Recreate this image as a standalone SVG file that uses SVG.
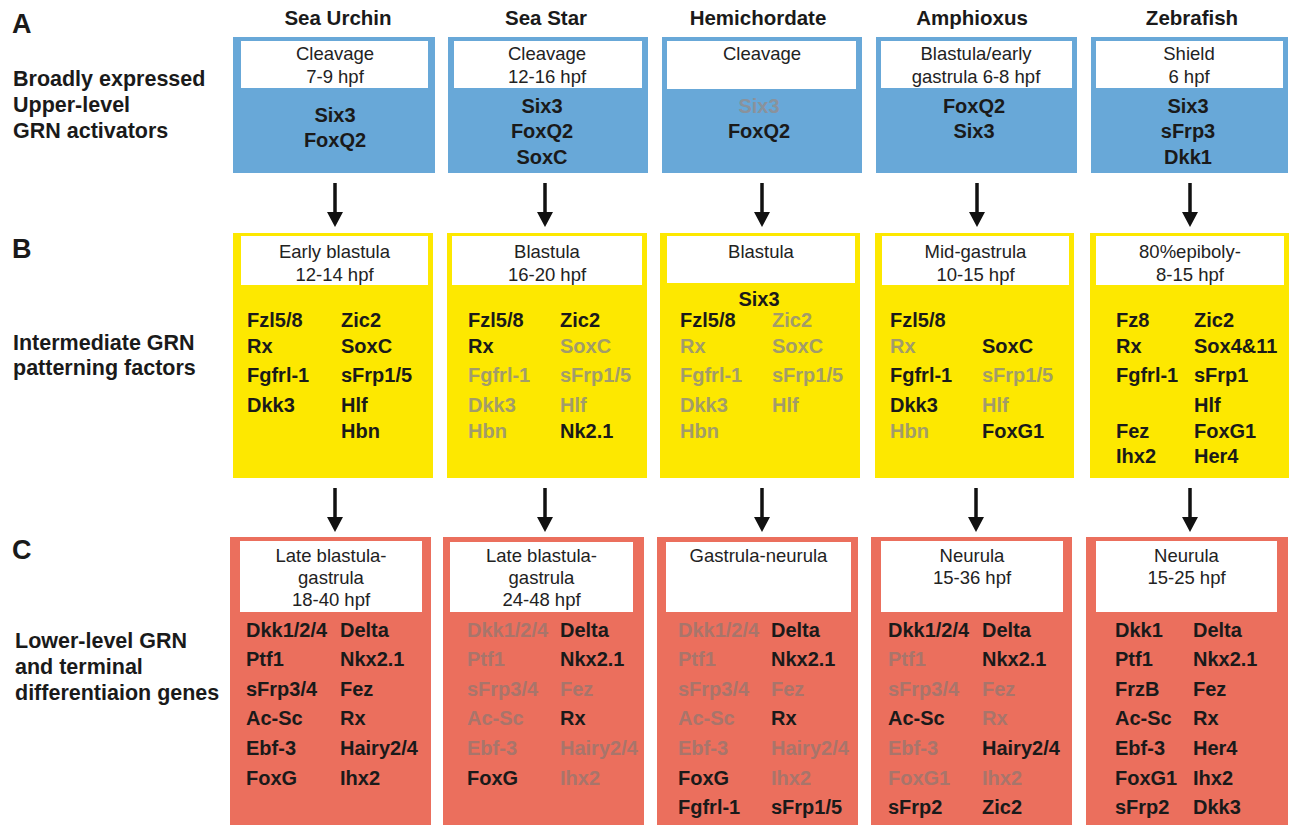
<svg xmlns="http://www.w3.org/2000/svg" width="1289" height="825" viewBox="0 0 1289 825">
<style>
text{font-family:"Liberation Sans",Arial,Helvetica,sans-serif;fill:#1a1a1a}
.hdr{font-weight:bold;font-size:20.5px;text-anchor:middle}
.lbl{font-weight:bold;font-size:21.5px}
.let{font-weight:bold;font-size:27px}
.stage{font-size:18.5px;text-anchor:middle;fill:#222}
.g{font-weight:bold;font-size:20px}
.c{text-anchor:middle}
.ga{fill:#8a929c}
.gb{fill:#a29c6a}
.gc{fill:#a8756b}
.blue{fill:#68a8d8}
.yel{fill:#fde800}
.red{fill:#eb6f5d}
.wb{fill:#ffffff}
.arr{stroke:#111;stroke-width:3.5;fill:none}
</style>
<defs>
<marker id="ah" viewBox="0 0 15 16" refX="0" refY="8" markerWidth="15" markerHeight="16" markerUnits="userSpaceOnUse" orient="auto">
<path d="M0,0 L15,8 L0,16 z" fill="#111"/>
</marker>
</defs>
<rect width="1289" height="825" fill="#ffffff"/>

<g id="labels">
<text class="let" x="12" y="33">A</text>
<text class="lbl" x="13" y="86">Broadly expressed</text>
<text class="lbl" x="13" y="112">Upper-level</text>
<text class="lbl" x="13" y="138">GRN activators</text>
<text class="let" x="12" y="258">B</text>
<text class="lbl" x="13" y="350">Intermediate GRN</text>
<text class="lbl" x="13" y="375">patterning factors</text>
<text class="let" x="12" y="559">C</text>
<text class="lbl" x="15" y="648">Lower-level GRN</text>
<text class="lbl" x="15" y="674">and terminal</text>
<text class="lbl" x="15" y="700">differentiaion genes</text>
</g>

<g id="headers">
<text class="hdr" x="338" y="25">Sea Urchin</text>
<text class="hdr" x="546" y="25">Sea Star</text>
<text class="hdr" x="758" y="25">Hemichordate</text>
<text class="hdr" x="972" y="25">Amphioxus</text>
<text class="hdr" x="1192" y="25">Zebrafish</text>
</g>

<!-- Row A -->
<g id="A1">
<rect class="blue" x="233" y="37" width="202" height="136"/>
<rect class="wb" x="241" y="41" width="187" height="47"/>
<text class="stage" x="335" y="60">Cleavage</text>
<text class="stage" x="335" y="83">7-9 hpf</text>
<text class="g c" x="335" y="122">Six3</text>
<text class="g c" x="335" y="147">FoxQ2</text>
</g>
<g id="A2">
<rect class="blue" x="448" y="37" width="200" height="136"/>
<rect class="wb" x="454" y="41" width="188" height="47"/>
<text class="stage" x="547" y="60">Cleavage</text>
<text class="stage" x="547" y="83">12-16 hpf</text>
<text class="g c" x="542" y="113">Six3</text>
<text class="g c" x="542" y="138">FoxQ2</text>
<text class="g c" x="542" y="164">SoxC</text>
</g>
<g id="A3">
<rect class="blue" x="662" y="37" width="200" height="136"/>
<rect class="wb" x="667" y="41" width="189" height="48"/>
<text class="stage" x="762" y="60">Cleavage</text>
<text class="g c ga" x="759" y="113">Six3</text>
<text class="g c" x="759" y="138">FoxQ2</text>
</g>
<g id="A4">
<rect class="blue" x="876" y="37" width="201" height="136"/>
<rect class="wb" x="881" y="41" width="191" height="47"/>
<text class="stage" x="976" y="60">Blastula/early</text>
<text class="stage" x="976" y="83">gastrula 6-8 hpf</text>
<text class="g c" x="974" y="113">FoxQ2</text>
<text class="g c" x="974" y="138">Six3</text>
</g>
<g id="A5">
<rect class="blue" x="1091" y="37" width="197" height="136"/>
<rect class="wb" x="1096" y="41" width="187" height="47"/>
<text class="stage" x="1189" y="60">Shield</text>
<text class="stage" x="1189" y="83">6 hpf</text>
<text class="g c" x="1188" y="113">Six3</text>
<text class="g c" x="1188" y="138">sFrp3</text>
<text class="g c" x="1188" y="164">Dkk1</text>
</g>

<!-- Row B -->
<g id="B1">
<rect class="yel" x="233" y="233" width="200" height="245"/>
<rect class="wb" x="241" y="236" width="187" height="49"/>
<text class="stage" x="334.5" y="258">Early blastula</text>
<text class="stage" x="334.5" y="281">12-14 hpf</text>
<text class="g" x="247" y="327">Fzl5/8</text>
<text class="g" x="247" y="353">Rx</text>
<text class="g" x="247" y="382">Fgfrl-1</text>
<text class="g" x="247" y="412">Dkk3</text>
<text class="g" x="341" y="327">Zic2</text>
<text class="g" x="341" y="353">SoxC</text>
<text class="g" x="341" y="382">sFrp1/5</text>
<text class="g" x="341" y="412">Hlf</text>
<text class="g" x="341" y="438">Hbn</text>
</g>
<g id="B2">
<rect class="yel" x="447" y="233" width="200" height="245"/>
<rect class="wb" x="452" y="236" width="190" height="49"/>
<text class="stage" x="547" y="258">Blastula</text>
<text class="stage" x="547" y="281">16-20 hpf</text>
<text class="g" x="468" y="327">Fzl5/8</text>
<text class="g" x="468" y="353">Rx</text>
<text class="g gb" x="468" y="382">Fgfrl-1</text>
<text class="g gb" x="468" y="412">Dkk3</text>
<text class="g gb" x="468" y="438">Hbn</text>
<text class="g" x="560" y="327">Zic2</text>
<text class="g gb" x="560" y="353">SoxC</text>
<text class="g gb" x="560" y="382">sFrp1/5</text>
<text class="g gb" x="560" y="412">Hlf</text>
<text class="g" x="560" y="438">Nk2.1</text>
</g>
<g id="B3">
<rect class="yel" x="660" y="233" width="200" height="245"/>
<rect class="wb" x="667" y="236" width="188" height="47"/>
<text class="stage" x="761" y="258">Blastula</text>
<text class="g c" x="759" y="306">Six3</text>
<text class="g" x="680" y="327">Fzl5/8</text>
<text class="g gb" x="680" y="353">Rx</text>
<text class="g gb" x="680" y="382">Fgfrl-1</text>
<text class="g gb" x="680" y="412">Dkk3</text>
<text class="g gb" x="680" y="438">Hbn</text>
<text class="g gb" x="772" y="327">Zic2</text>
<text class="g gb" x="772" y="353">SoxC</text>
<text class="g gb" x="772" y="382">sFrp1/5</text>
<text class="g gb" x="772" y="412">Hlf</text>
</g>
<g id="B4">
<rect class="yel" x="875" y="233" width="199" height="245"/>
<rect class="wb" x="882" y="236" width="187" height="49"/>
<text class="stage" x="975.5" y="258">Mid-gastrula</text>
<text class="stage" x="975.5" y="281">10-15 hpf</text>
<text class="g" x="890" y="327">Fzl5/8</text>
<text class="g gb" x="890" y="353">Rx</text>
<text class="g" x="890" y="382">Fgfrl-1</text>
<text class="g" x="890" y="412">Dkk3</text>
<text class="g gb" x="890" y="438">Hbn</text>
<text class="g" x="982" y="353">SoxC</text>
<text class="g gb" x="982" y="382">sFrp1/5</text>
<text class="g gb" x="982" y="412">Hlf</text>
<text class="g" x="982" y="438">FoxG1</text>
</g>
<g id="B5">
<rect class="yel" x="1090" y="233" width="199" height="245"/>
<rect class="wb" x="1096" y="236" width="188" height="49"/>
<text class="stage" x="1190" y="258">80%epiboly-</text>
<text class="stage" x="1190" y="281">8-15 hpf</text>
<text class="g" x="1116" y="327">Fz8</text>
<text class="g" x="1116" y="353">Rx</text>
<text class="g" x="1116" y="382">Fgfrl-1</text>
<text class="g" x="1116" y="438">Fez</text>
<text class="g" x="1116" y="463">Ihx2</text>
<text class="g" x="1194" y="327">Zic2</text>
<text class="g" x="1194" y="353">Sox4&amp;11</text>
<text class="g" x="1194" y="382">sFrp1</text>
<text class="g" x="1194" y="412">Hlf</text>
<text class="g" x="1194" y="438">FoxG1</text>
<text class="g" x="1194" y="463">Her4</text>
</g>

<!-- Row C -->
<g id="C1">
<rect class="red" x="230" y="537" width="201" height="300"/>
<rect class="wb" x="240" y="541" width="182" height="71"/>
<text class="stage" x="331" y="562">Late blastula-</text>
<text class="stage" x="331" y="584">gastrula</text>
<text class="stage" x="331" y="606">18-40 hpf</text>
<text class="g" x="246" y="637">Dkk1/2/4</text>
<text class="g" x="246" y="666">Ptf1</text>
<text class="g" x="246" y="696">sFrp3/4</text>
<text class="g" x="246" y="725">Ac-Sc</text>
<text class="g" x="246" y="755">Ebf-3</text>
<text class="g" x="246" y="785">FoxG</text>
<text class="g" x="340" y="637">Delta</text>
<text class="g" x="340" y="666">Nkx2.1</text>
<text class="g" x="340" y="696">Fez</text>
<text class="g" x="340" y="725">Rx</text>
<text class="g" x="340" y="755">Hairy2/4</text>
<text class="g" x="340" y="785">Ihx2</text>
</g>
<g id="C2">
<rect class="red" x="443" y="537" width="201" height="300"/>
<rect class="wb" x="450" y="542" width="183" height="70"/>
<text class="stage" x="541.5" y="562">Late blastula-</text>
<text class="stage" x="541.5" y="584">gastrula</text>
<text class="stage" x="541.5" y="606">24-48 hpf</text>
<text class="g gc" x="467" y="637">Dkk1/2/4</text>
<text class="g gc" x="467" y="666">Ptf1</text>
<text class="g gc" x="467" y="696">sFrp3/4</text>
<text class="g gc" x="467" y="725">Ac-Sc</text>
<text class="g gc" x="467" y="755">Ebf-3</text>
<text class="g" x="467" y="785">FoxG</text>
<text class="g" x="560" y="637">Delta</text>
<text class="g" x="560" y="666">Nkx2.1</text>
<text class="g gc" x="560" y="696">Fez</text>
<text class="g" x="560" y="725">Rx</text>
<text class="g gc" x="560" y="755">Hairy2/4</text>
<text class="g gc" x="560" y="785">Ihx2</text>
</g>
<g id="C3">
<rect class="red" x="657" y="537" width="201" height="300"/>
<rect class="wb" x="666" y="542" width="185" height="70"/>
<text class="stage" x="758.5" y="562">Gastrula-neurula</text>
<text class="g gc" x="678" y="637">Dkk1/2/4</text>
<text class="g gc" x="678" y="666">Ptf1</text>
<text class="g gc" x="678" y="696">sFrp3/4</text>
<text class="g gc" x="678" y="725">Ac-Sc</text>
<text class="g gc" x="678" y="755">Ebf-3</text>
<text class="g" x="678" y="785">FoxG</text>
<text class="g" x="678" y="814">Fgfrl-1</text>
<text class="g" x="771" y="637">Delta</text>
<text class="g" x="771" y="666">Nkx2.1</text>
<text class="g gc" x="771" y="696">Fez</text>
<text class="g" x="771" y="725">Rx</text>
<text class="g gc" x="771" y="755">Hairy2/4</text>
<text class="g gc" x="771" y="785">Ihx2</text>
<text class="g" x="771" y="814">sFrp1/5</text>
</g>
<g id="C4">
<rect class="red" x="871" y="537" width="201" height="300"/>
<rect class="wb" x="881" y="541" width="182" height="71"/>
<text class="stage" x="972" y="562">Neurula</text>
<text class="stage" x="972" y="584">15-36 hpf</text>
<text class="g" x="888" y="637">Dkk1/2/4</text>
<text class="g gc" x="888" y="666">Ptf1</text>
<text class="g gc" x="888" y="696">sFrp3/4</text>
<text class="g" x="888" y="725">Ac-Sc</text>
<text class="g gc" x="888" y="755">Ebf-3</text>
<text class="g gc" x="888" y="785">FoxG1</text>
<text class="g" x="888" y="814">sFrp2</text>
<text class="g" x="982" y="637">Delta</text>
<text class="g" x="982" y="666">Nkx2.1</text>
<text class="g gc" x="982" y="696">Fez</text>
<text class="g gc" x="982" y="725">Rx</text>
<text class="g" x="982" y="755">Hairy2/4</text>
<text class="g gc" x="982" y="785">Ihx2</text>
<text class="g" x="982" y="814">Zic2</text>
</g>
<g id="C5">
<rect class="red" x="1086" y="537" width="202" height="300"/>
<rect class="wb" x="1096" y="541" width="181" height="71"/>
<text class="stage" x="1186.5" y="562">Neurula</text>
<text class="stage" x="1186.5" y="584">15-25 hpf</text>
<text class="g" x="1115" y="637">Dkk1</text>
<text class="g" x="1115" y="666">Ptf1</text>
<text class="g" x="1115" y="696">FrzB</text>
<text class="g" x="1115" y="725">Ac-Sc</text>
<text class="g" x="1115" y="755">Ebf-3</text>
<text class="g" x="1115" y="785">FoxG1</text>
<text class="g" x="1115" y="814">sFrp2</text>
<text class="g" x="1193" y="637">Delta</text>
<text class="g" x="1193" y="666">Nkx2.1</text>
<text class="g" x="1193" y="696">Fez</text>
<text class="g" x="1193" y="725">Rx</text>
<text class="g" x="1193" y="755">Her4</text>
<text class="g" x="1193" y="785">Ihx2</text>
<text class="g" x="1193" y="814">Dkk3</text>
</g>

<g id="connectors">
<line class="arr" x1="335" y1="183" x2="335" y2="212" marker-end="url(#ah)"/>
<line class="arr" x1="545" y1="183" x2="545" y2="212" marker-end="url(#ah)"/>
<line class="arr" x1="762" y1="183" x2="762" y2="212" marker-end="url(#ah)"/>
<line class="arr" x1="977" y1="183" x2="977" y2="212" marker-end="url(#ah)"/>
<line class="arr" x1="1190" y1="183" x2="1190" y2="212" marker-end="url(#ah)"/>
<line class="arr" x1="335" y1="488" x2="335" y2="517" marker-end="url(#ah)"/>
<line class="arr" x1="545" y1="488" x2="545" y2="517" marker-end="url(#ah)"/>
<line class="arr" x1="762" y1="488" x2="762" y2="517" marker-end="url(#ah)"/>
<line class="arr" x1="976" y1="488" x2="976" y2="517" marker-end="url(#ah)"/>
<line class="arr" x1="1190" y1="488" x2="1190" y2="517" marker-end="url(#ah)"/>
</g>
</svg>
